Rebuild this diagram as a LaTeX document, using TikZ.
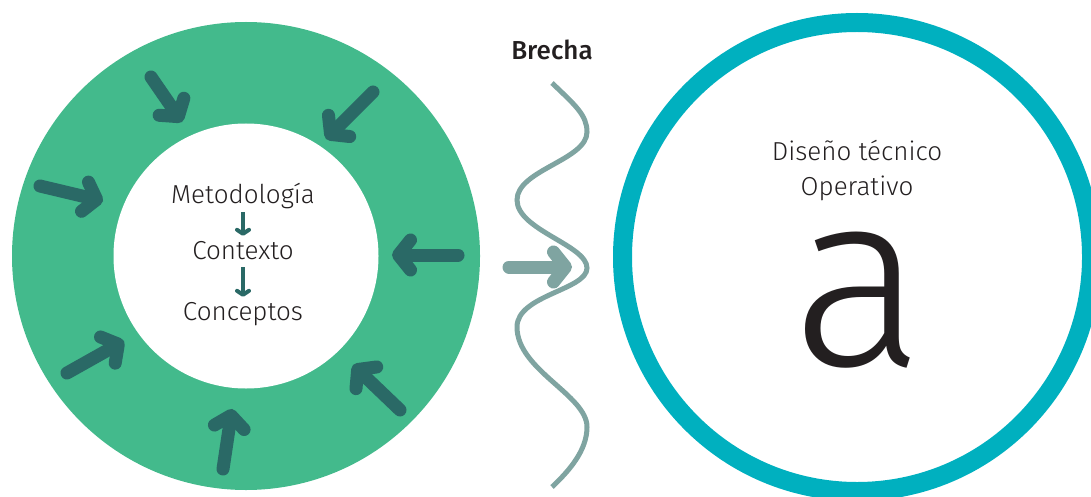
\documentclass[tikz,border=0pt]{standalone}
\usepackage{fontspec}
\setmainfont{Fira Sans}[UprightFont=* Light,BoldFont=* Medium]
\usepackage{xcolor}
\usetikzlibrary{arrows.meta}

\definecolor{ringgreen}{HTML}{43BA8C}
\definecolor{arrowteal}{HTML}{2A6966}
\definecolor{opsteal}{HTML}{00B0BF}
\definecolor{gapgray}{HTML}{7FA4A1}
\definecolor{inktext}{HTML}{231F20}

\begin{document}
\begin{tikzpicture}[
  x=1pt, y=-1pt, font=\fontsize{26}{30}\selectfont, text=inktext,
  push/.style={draw=arrowteal,line width=13pt,line cap=round,-{Straight Barb[length=12pt,width=30pt,round]}},
  flowarr/.style={draw=arrowteal,line width=4pt,-{Straight Barb[length=4pt,width=12pt,round]},shorten >=4pt},
  term/.style={inner sep=1pt,text height=18pt,text depth=7pt,anchor=base},
  disc/.style={circle,inner sep=0pt}
]
\useasboundingbox (0,0) rectangle (1091,497);

% left ring
\node[disc,fill=ringgreen,minimum size=468pt] (field) at (246,256) {};
\node[disc,fill=white,minimum size=265pt] (core) at (246,256) {};

\draw[push] (151,77) -- (182,122);
\draw[push] (373,92) -- (326,139);
\draw[push] (40,186) -- (103,201);
\draw[push] (458,255) -- (392,255);
\draw[push] (67,373) -- (124,341);
\draw[push] (400,410) -- (353,365);
\draw[push] (223,469) -- (232,409);

\node[term] (meto) at (243,204) {Metodología};
\node[term] (ctx) at (243,259) {Contexto};
\node[term] (conc) at (243,320) {Conceptos};
\draw[flowarr] (meto) -- (ctx);
\draw[flowarr] (ctx) -- (conc);

% gap
\node[anchor=base,inner sep=0pt,font=\fontsize{26}{30}\bfseries] (gaplabel) at (552,60) {Brecha};
\draw[gapgray,line width=5pt] (552,83)
  .. controls (575,105) and (587,115) .. (587,132)
  .. controls (587,160) and (517,170) .. (517,200)
  .. controls (517,230) and (587,245) .. (587,268)
  .. controls (587,290) and (517,295) .. (517,327)
  .. controls (517,370) and (587,395) .. (587,427)
  .. controls (587,450) and (570,470) .. (552,487);
\coordinate (gapfrom) at (509,267);
\coordinate (gapto) at (572,267);
\draw[push,draw=gapgray] (gapfrom) -- (gapto);

% right ring
\node[disc,draw=opsteal,line width=19pt,minimum size=469pt] (ops) at (857,257) {};
\node[anchor=base,inner sep=0pt,align=center,font=\fontsize{26}{35}\selectfont] (opsname) at (857,195) {Diseño técnico\\Operativo};
\node[anchor=base,inner sep=0pt,font=\fontsize{250}{250}\selectfont] (glyph) at (858,365) {a};
\end{tikzpicture}
\end{document}
